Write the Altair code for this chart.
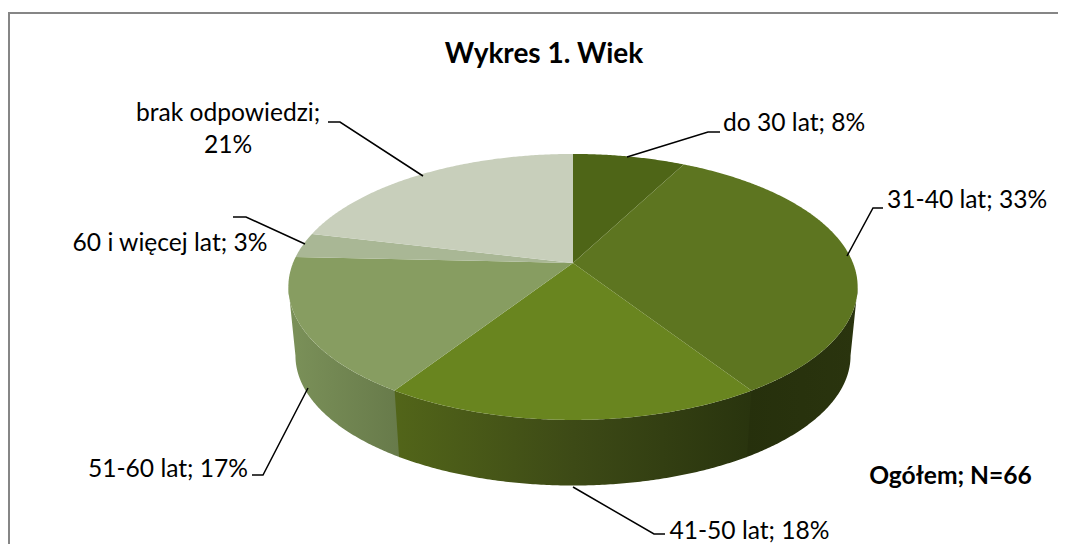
import math
import altair as alt
import pandas as pd

# ---- data ----
categories = ["do 30 lat", "31-40 lat", "41-50 lat", "51-60 lat", "60 i więcej lat", "brak odpowiedzi"]
counts = [5, 22, 12, 11, 2, 14]
top_colors = ["#4e6517", "#5d7520", "#69851f", "#879d61", "#a9b795", "#c8cfbb"]
side_stops = {
    "31-40 lat": ["#2a340e", "#26300c"],
    "41-50 lat": ["#526519", "#3d4a16", "#29340e"],
    "51-60 lat": ["#7b9159", "#677a4a"],
}
label_texts = ["do 30 lat; 8%", "31-40 lat; 33%", "brak odpowiedzi;", "21%", "60 i więcej lat; 3%", "51-60 lat; 17%", "41-50 lat; 18%"]
label_x = [723, 887, 228, 228, 170, 168, 749.5]
label_y = [124, 201, 114, 146, 244, 470, 532]
title_text = "Wykres 1. Wiek"
note_text = "Ogółem; N=66"

leaders = [
    [(720, 132), (708, 132), (627, 157)],
    [(883, 208), (873, 208), (847, 256)],
    [(328, 122), (340, 122), (423, 176)],
    [(233, 217), (246, 217), (305, 244)],
    [(252, 475), (263, 475), (308, 388)],
    [(665, 534), (654, 534), (573, 487)],
]
border_path = [(9, 544), (9, 13), (1058, 13)]

# ---- pie geometry ----
W, H = 1050, 536
CX, CY = 573, 263
A, B, K = 128.7, 280.0, 0.18
SHRINK, DEPTH = 0.975, 69.5


def rim(theta, lower=False):
    u, v = math.sin(theta), math.cos(theta)
    d = 1 + K * v
    x, y = B * u / d, -A * v / d
    if lower:
        return CX + x * SHRINK, CY + y * SHRINK + DEPTH
    return CX + x, CY + y


def arc(t0, t1, lower=False):
    n = max(2, int(abs(t1 - t0) * 120))
    return [rim(t0 + (t1 - t0) * i / n, lower) for i in range(n + 1)]


total = sum(counts)
edges = [0.0]
for c in counts:
    edges.append(edges[-1] + c / total * 2 * math.pi)

t_ext_r = math.acos(-K)
t_ext_l = 2 * math.pi - t_ext_r

x_scale = alt.Scale(domain=[8, 8 + W], range=[0, W], nice=False, zero=False)
y_scale = alt.Scale(domain=[8, 8 + H], range=[0, H], nice=False, zero=False)


def poly(points, **mark):
    df = pd.DataFrame(points, columns=["x", "y"])
    df["i"] = range(len(df))
    return alt.Chart(df).mark_line(strokeWidth=0, interpolate="linear-closed", **mark).encode(
        x=alt.X("x:Q", scale=x_scale, axis=None),
        y=alt.Y("y:Q", scale=y_scale, axis=None),
        order="i:O",
    )


def gradient(stops):
    n = len(stops) - 1
    return alt.Gradient(
        gradient="linear", x1=0, x2=1, y1=0, y2=0,
        stops=[alt.GradientStop(offset=i / n, color=c) for i, c in enumerate(stops)],
    )


layers = []
OVER = 0.004
# side walls
for name, start, end in [
    ("31-40 lat", t_ext_r, edges[2] + OVER),
    ("51-60 lat", edges[3] - OVER, t_ext_l),
    ("41-50 lat", edges[2], edges[3]),
]:
    pts = arc(start, end) + arc(end, start, lower=True)
    layers.append(poly(pts, fill=gradient(list(reversed(side_stops[name])) if name == "31-40 lat" else side_stops[name])))

# top faces
for i, col in enumerate(top_colors):
    pts = [(CX, CY)] + arc(edges[i], edges[i + 1])
    layers.append(poly(pts, fill=col, stroke=col))


def path(points, color, width):
    df = pd.DataFrame(points, columns=["x", "y"])
    df["i"] = range(len(df))
    return alt.Chart(df).mark_line(color=color, strokeWidth=width, clip=True).encode(
        x=alt.X("x:Q", scale=x_scale, axis=None),
        y=alt.Y("y:Q", scale=y_scale, axis=None),
        order="i:O",
    )


layers.append(path(border_path, "#868686", 2))
for lead in leaders:
    layers.append(path(lead, "#000000", 1.5))

FONT = "Lato"
aligns = ["left", "left", "center", "center", "center", "center", "center"]
labels = pd.DataFrame({"t": label_texts, "x": label_x, "y": label_y, "a": aligns})
for al in ["left", "center"]:
    layers.append(
        alt.Chart(labels[labels.a == al]).mark_text(font=FONT, fontSize=24.6, color="#000000", align=al, baseline="middle").encode(
            x=alt.X("x:Q", scale=x_scale, axis=None),
            y=alt.Y("y:Q", scale=y_scale, axis=None),
            text="t:N",
        )
    )
bold = pd.DataFrame({"t": [title_text, note_text], "x": [544, 950.5], "y": [55, 477], "s": [28, 24.6]})
for s in [28, 24.6]:
    layers.append(
        alt.Chart(bold[bold.s == s]).mark_text(font=FONT, fontSize=s, fontWeight="bold", color="#000000", align="center", baseline="middle").encode(
            x=alt.X("x:Q", scale=x_scale, axis=None),
            y=alt.Y("y:Q", scale=y_scale, axis=None),
            text="t:N",
        )
    )

chart = alt.layer(*layers).properties(
    width=W, height=H, padding=0, background="#ffffff",
    autosize=alt.AutoSizeParams(type="none"),
).configure_view(stroke=None)
chart.save("out.html", embed_options={"renderer": "svg", "actions": False})
